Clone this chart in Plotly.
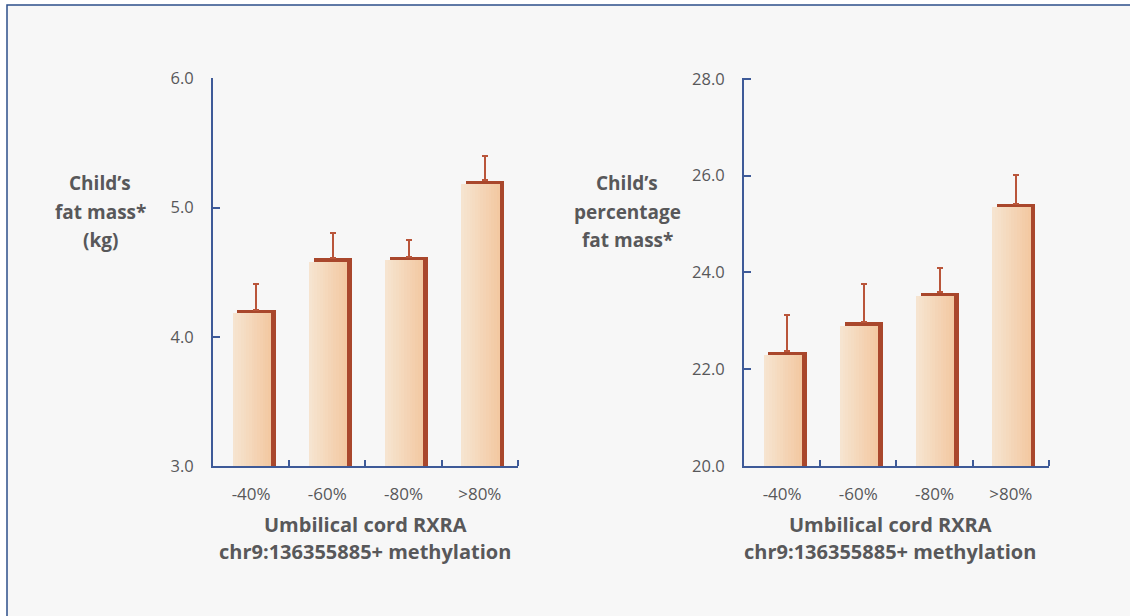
import numpy as np
import plotly.graph_objects as go

# ---------------- data ----------------
categories = ["-40%", "-60%", "-80%", ">80%"]
fat_mass_kg = [4.21, 4.61, 4.62, 5.21]
fat_mass_kg_err = [0.20, 0.19, 0.13, 0.19]
pct_fat_mass = [22.37, 22.98, 23.59, 25.42]
pct_fat_mass_err = [0.74, 0.77, 0.50, 0.59]
left_ticks = [3.0, 4.0, 5.0, 6.0]
right_ticks = [20.0, 22.0, 24.0, 26.0, 28.0]
left_title = ["Child’s", "fat mass*", "(kg)"]
right_title = ["Child’s", "percentage", "fat mass*"]
x_title = ["Umbilical cord RXRA", "chr9:136355885+ methylation"]

# ---------------- style ----------------
W, H = 1130, 616
TXT = "#58585a"
AXC = "#3e5a98"
DARK = "#a9472c"
ERRC = "#b9553a"
LIGHT_L = np.array([246, 228, 208])
LIGHT_R = np.array([243, 201, 162])
FONT = "Open Sans"

plot_top, plot_bot = 77.7, 466.0
plot_h = plot_bot - plot_top
ydom = [1 - plot_bot / H, 1 - plot_top / H]
xdom_l = [213 / W, 518 / W]
xdom_r = [744 / W, 1049 / W]
shadow_px = 3.5

xpos = [i + 0.5 for i in range(len(categories))]

fig = go.Figure()


def add_bars(vals, errs, yrange, xa, ya):
    d = shadow_px * (yrange[1] - yrange[0]) / plot_h
    # dark shadow bar with error bars
    fig.add_trace(go.Bar(
        x=xpos, y=vals, offset=-0.18, width=0.50,
        marker=dict(color=DARK, line=dict(width=0)),
        error_y=dict(type="data", symmetric=False, array=errs,
                     arrayminus=[0] * len(vals), color=ERRC,
                     thickness=2, width=3),
        xaxis=xa, yaxis=ya, showlegend=False, hoverinfo="skip"))
    # light gradient front bar built from thin slices
    n = 14
    sw = 0.50 / n
    light_vals = [v - d for v in vals]
    for k in range(n):
        t = k / (n - 1)
        c = LIGHT_L + (LIGHT_R - LIGHT_L) * t
        col = "rgb(%d,%d,%d)" % tuple(int(round(v)) for v in c)
        fig.add_trace(go.Bar(
            x=xpos, y=light_vals, offset=-0.242 + k * sw, width=sw * 1.02,
            marker=dict(color=col, line=dict(width=0)),
            xaxis=xa, yaxis=ya, showlegend=False, hoverinfo="skip"))


add_bars(fat_mass_kg, fat_mass_kg_err, [3.0, 6.0], "x", "y")
add_bars(pct_fat_mass, pct_fat_mass_err, [20.0, 28.0], "x2", "y2")


def xaxis_cfg(dom):
    return dict(
        domain=dom, range=[0, 4.001], showgrid=False, zeroline=False,
        showline=True, linecolor=AXC, linewidth=2, automargin=False,
        tickmode="array", tickvals=xpos, ticktext=categories, ticks="",
        ticklabelstandoff=12,
        tickfont=dict(family=FONT, size=17, color=TXT),
        minor=dict(tickmode="array", tickvals=[1, 2, 3, 4], ticks="inside",
                   ticklen=6, tickwidth=2, tickcolor=AXC, showgrid=False),
    )


def yaxis_cfg(ticks, anchor):
    return dict(
        domain=ydom, range=[ticks[0], ticks[-1] * 1.0008], showgrid=False,
        zeroline=False, showline=True, linecolor=AXC, linewidth=2,
        automargin=False,
        tickmode="array", tickvals=ticks, ticktext=["%.1f" % t for t in ticks],
        ticks="inside", ticklen=7, tickwidth=2, tickcolor=AXC,
        ticklabelstandoff=14, anchor=anchor,
        tickfont=dict(family=FONT, size=16.5, color=TXT),
    )


annos = []
for i, line in enumerate(left_title):
    annos.append(dict(text=line, x=100 / W, y=1 - (183 + i * 28.5) / H,
                      xref="paper", yref="paper", showarrow=False,
                      xanchor="center", yanchor="middle",
                      font=dict(family=FONT, size=19, color=TXT, weight="bold")))
for i, line in enumerate(right_title):
    annos.append(dict(text=line, x=627 / W, y=1 - (183 + i * 28.5) / H,
                      xref="paper", yref="paper", showarrow=False,
                      xanchor="center", yanchor="middle",
                      font=dict(family=FONT, size=19, color=TXT, weight="bold")))
for cx in (365, 890):
    for i, line in enumerate(x_title):
        annos.append(dict(text=line, x=cx / W, y=1 - (524 + i * 27) / H,
                          xref="paper", yref="paper", showarrow=False,
                          xanchor="center", yanchor="middle",
                          font=dict(family=FONT, size=20, color=TXT, weight="bold")))

fig.update_layout(
    width=W, height=H, autosize=False,
    margin=dict(l=0, r=0, t=0, b=0, pad=0, autoexpand=False),
    paper_bgcolor="white", plot_bgcolor="rgba(0,0,0,0)",
    barmode="overlay", bargap=0, showlegend=False,
    xaxis=xaxis_cfg(xdom_l), yaxis=yaxis_cfg(left_ticks, "x"),
    xaxis2=dict(xaxis_cfg(xdom_r), anchor="y2"),
    yaxis2=yaxis_cfg(right_ticks, "x2"),
    annotations=annos,
    shapes=[dict(type="rect", xref="paper", yref="paper",
                 x0=7 / W, x1=1.05, y0=-0.05, y1=1 - 5 / H,
                 fillcolor="#f7f7f7", line=dict(color="#2c4f8a", width=1.5),
                 layer="below")],
)

fig.write_html(
    "out.html",
    config={"displayModeBar": False, "responsive": False},
    post_script=(
        "document.documentElement.style.margin='0';"
        "document.body.style.margin='0';document.body.style.padding='0';"
        "var d=document.getElementById('{plot_id}');"
        "d.style.position='absolute';d.style.left='0px';d.style.top='0px';"
    ),
)
